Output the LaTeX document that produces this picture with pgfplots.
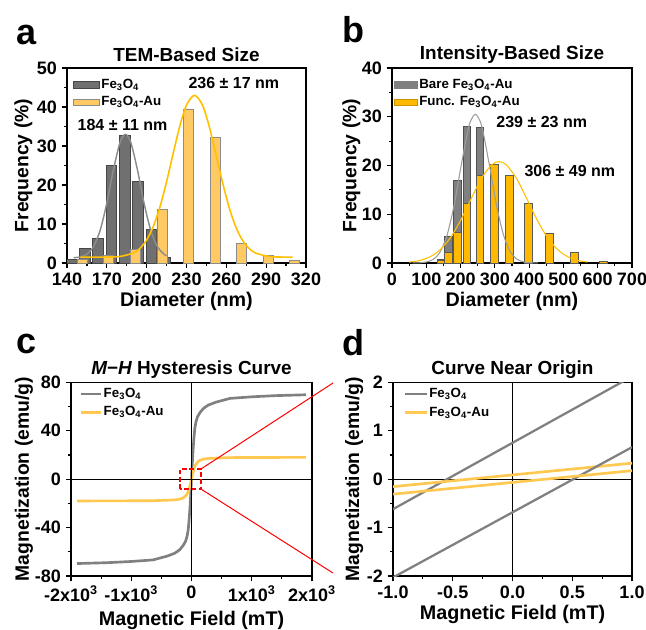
\documentclass[border=0pt]{standalone}
\usepackage{fontspec}
\setmainfont{Liberation Sans}
\usepackage{pgfplots}
\pgfplotsset{compat=1.18}

\definecolor{aGray}{RGB}{112,112,112}
\definecolor{aGrayEdge}{RGB}{70,70,70}
\definecolor{aYel}{RGB}{255,202,100}
\definecolor{aYelEdge}{RGB}{140,140,140}
\definecolor{fitGray}{RGB}{140,140,140}
\definecolor{fitYel}{RGB}{255,192,0}
\definecolor{bGray}{RGB}{128,128,128}
\definecolor{bGrayEdge}{RGB}{80,80,80}
\definecolor{bYel}{RGB}{255,185,0}
\definecolor{bYelEdge}{RGB}{90,90,90}
\definecolor{mGray}{RGB}{128,128,128}
\definecolor{mYel}{RGB}{255,200,80}

\tikzset{note/.style={font=\bfseries\fontsize{12}{13}\selectfont, anchor=base west}}
\pgfplotsset{
  panel/.style={
    scale only axis, anchor=south west, enlargelimits=false,
    axis line style={line width=0.9pt},
    tick align=outside, tick pos=left,
    major tick length=4pt, minor tick length=2.3pt,
    every tick/.style={black, line width=0.9pt},
    tick label style={font=\bfseries\fontsize{13.5}{14}\selectfont},
    /pgf/number format/assume math mode=true,
    every axis x label/.style={at={(axis description cs:0.5,-0.195)}, anchor=center,
      font=\bfseries\fontsize{14.8}{16}\selectfont},
    every axis y label/.style={at={(axis description cs:-0.18,0.5)}, rotate=90, anchor=center,
      font=\bfseries\fontsize{14.5}{16}\selectfont},
    every axis title/.style={at={(axis description cs:0.5,1)}, anchor=base,
      font=\bfseries\fontsize{14.2}{15}\selectfont},
    legend style={draw=none, fill=none, anchor=north west, inner sep=0pt,
      font=\bfseries\fontsize{10}{11}\selectfont, cells={anchor=west},
      nodes={inner sep=1pt, text height=7.5pt, text depth=2.5pt}, row sep=1pt},
  },
}

\begin{document}
\begin{tikzpicture}

% ---------- a ----------
\begin{axis}[panel, at={(50.25pt,-197.25pt)}, width=179.25pt, height=146.25pt,
  xmin=140, xmax=320, ymin=0, ymax=50,
  xtick={140,170,...,320}, ytick={0,10,...,50}, minor x tick num=1, minor y tick num=1,
  title={TEM-Based Size}, title style={yshift=4.7pt},
  xlabel={Diameter (nm)}, ylabel={Frequency (\%)},
  every axis y label/.append style={at={(axis description cs:-0.182,0.5)}},
  legend style={at={(axis description cs:0.025,0.955)}}]
\addplot[ybar, bar width=8, bar shift=0pt, fill=aGray, draw=aGrayEdge, line width=0.6pt,
  legend image code/.code={\draw[fill=aGray, draw=aGrayEdge, line width=0.6pt] (0pt,-2.5pt) rectangle (19.5pt,2.5pt);}]
  coordinates {(143.5,0.8)(153.5,3.8)(163.5,6.2)(173.5,25.0)(183.5,32.8)(193.5,21.0)(203.5,8.5)(213.5,1.5)};
\addlegendentry{Fe\textsubscript{3}O\textsubscript{4}}
\addplot[ybar, bar width=7.5, bar shift=0pt, fill=aYel, draw=aYelEdge, line width=0.6pt,
  legend image code/.code={\draw[fill=aYel, draw=aYelEdge, line width=0.6pt] (0pt,-2.5pt) rectangle (19.5pt,2.5pt);}]
  coordinates {(151.5,0.8)(171.5,2.0)(191.5,3.5)(211.5,13.7)(231.5,39.5)(251.5,32.3)(271.5,5.0)(291.5,2.0)(311.5,0.7)};
\addlegendentry{Fe\textsubscript{3}O\textsubscript{4}-Au}
\addplot[smooth, fitGray, line width=1.1pt, forget plot]
  coordinates {(145,1.36)(150,1.57)(155,2.28)(160,4.24)(165,8.43)(170,15.40)(175,23.98)(180,30.97)(184,33.0)
               (188,30.97)(193,23.98)(198,15.40)(203,8.43)(208,4.24)(213,2.28)(215,1.90)};
\addplot[smooth, fitYel, line width=1.2pt, forget plot]
  coordinates {(150,1.50)(160,1.50)(170,1.52)(180,1.68)(190,2.57)(195,3.77)(200,5.91)(205,9.37)(210,14.38)
               (215,20.85)(220,28.15)(225,35.16)(230,40.49)(236,43.0)(242,40.49)(247,35.16)(252,28.15)(257,20.85)
               (262,14.38)(267,9.37)(272,5.91)(277,3.77)(282,2.57)(292,1.68)(302,1.52)(310,1.50)};
\node[note] at (axis cs:144.5,34.1) {184 ± 11 nm};
\node[note] at (axis cs:228,44.7) {236 ± 17 nm};
\end{axis}

% ---------- b ----------
\begin{axis}[panel, at={(294pt,-197.25pt)}, width=180pt, height=146.25pt,
  xmin=0, xmax=700, ymin=0, ymax=40,
  xtick={0,100,...,700}, ytick={0,10,...,40}, minor x tick num=1, minor y tick num=1,
  title={Intensity-Based Size}, title style={yshift=6.5pt},
  xlabel={Diameter (nm)}, ylabel={Frequency (\%)},
  every axis y label/.append style={at={(axis description cs:-0.169,0.5)}},
  legend style={at={(axis description cs:0.008,0.955)}}]
\addplot[ybar, bar width=22, bar shift=0pt, fill=bGray, draw=bGrayEdge, line width=0.6pt,
  legend image code/.code={\draw[fill=bGray, draw=bGray, line width=0.6pt] (0pt,-2.6pt) rectangle (17.25pt,2.6pt);}]
  coordinates {(143,0.8)(165,5.5)(190,17.0)(219,28.0)(256,27.8)};
\addlegendentry{Bare Fe\textsubscript{3}O\textsubscript{4}-Au}
\addplot[ybar, bar width=22, bar shift=0pt, fill=bYel, draw=bYelEdge, line width=0.6pt,
  legend image code/.code={\draw[fill=bYel, draw=bYel!80!black, line width=0.6pt] (0pt,-2.6pt) rectangle (17.25pt,2.6pt);}]
  coordinates {(143,0.5)(165,2.2)(190,6.2)(219,12.2)(256,18.0)(298,20.3)(343,18.0)(398,12.2)(459,6.0)(532,2.2)(616,0.3)};
\addlegendentry{Func. Fe\textsubscript{3}O\textsubscript{4}-Au}
\addplot[smooth, fitGray!85, line width=0.8pt, forget plot]
  coordinates {(60,0.01)(80,0.04)(100,0.20)(120,0.73)(140,2.22)(160,5.57)(180,11.45)(200,19.32)(220,26.77)
               (230,29.25)(243,30.5)(256,29.25)(266,26.77)(286,19.32)(306,11.45)(326,5.57)(346,2.22)(366,0.73)
               (386,0.20)(406,0.04)(426,0.01)};
\addplot[smooth, fitYel, line width=0.8pt, forget plot]
  coordinates {(50,0.18)(80,0.50)(110,1.24)(140,2.69)(170,5.15)(200,8.73)(230,13.06)(260,17.25)(290,20.11)
               (312,20.8)(334,20.11)(364,17.25)(394,13.06)(424,8.73)(454,5.15)(484,2.69)(514,1.24)(544,0.50)(570,0.2)};
\node[note] at (axis cs:290.8,27.75) {239 ± 23 nm};
\node[note] at (axis cs:373,17.7) {306 ± 49 nm};
\end{axis}

% ---------- c ----------
\begin{axis}[panel, at={(53.25pt,-432pt)}, width=180.75pt, height=145.3pt,
  xmin=-2000, xmax=2000, ymin=-80, ymax=80, scaled x ticks=false,
  xtick={-2000,-1000,0,1000,2000},
  xticklabels={-2x10\textsuperscript{3},-1x10\textsuperscript{3},0,1x10\textsuperscript{3},2x10\textsuperscript{3}},
  ytick={-80,-40,0,40,80}, minor x tick num=1, minor y tick num=1,
  title={\itshape M\upshape−\itshape H\upshape\ Hysteresis Curve}, title style={yshift=6.2pt},
  xlabel={Magnetic Field (mT)}, ylabel={Magnetization (emu/g)},
  every axis x label/.append style={at={(axis description cs:0.5,-0.228)}},
  every axis y label/.append style={at={(axis description cs:-0.195,0.5)}},
  legend style={at={(axis description cs:0.035,0.982)}, row sep=1.7pt}]
\addplot[mGray, line width=2pt, legend image code/.code={\draw[mGray, line width=2pt] (0pt,0pt) -- (15pt,0pt);}]
  coordinates {(-1900,-69.7)(-1400,-69)(-1000,-68)(-639,-66.7)(-400,-63.5)(-279,-61.2)(-200,-58.5)(-141,-55)
               (-100,-51.5)(-75,-47.5)(-55,-42)(-42,-35)(-30,-27)(-20,-19)(-10,-10)(0,0)(10,10)(20,19)(30,27)
               (42,35)(55,42)(75,47.5)(100,51.5)(141,55)(200,58.5)(279,61.2)(400,63.5)(639,66.7)(1000,68)(1400,69)(1900,69.7)};
\addlegendentry{Fe\textsubscript{3}O\textsubscript{4}}
\addplot[mYel, line width=2pt, legend image code/.code={\draw[mYel, line width=2pt] (0pt,0pt) -- (15pt,0pt);}]
  coordinates {(-1900,-18)(-1000,-17.9)(-640,-17.8)(-300,-17.2)(-200,-16.6)(-140,-15.6)(-110,-14.5)(-86,-13.1)
               (-60,-11)(-45,-9)(-30,-6.2)(-15,-3.1)(0,0)(15,3.1)(30,6.2)(45,9)(60,11)(86,13.1)(110,14.5)
               (140,15.6)(200,16.6)(300,17.2)(640,17.8)(1000,17.9)(1900,18)};
\addlegendentry{Fe\textsubscript{3}O\textsubscript{4}-Au}
\draw[black, line width=0.8pt] (axis cs:0,-80) -- (axis cs:0,80);
\draw[black, line width=0.8pt] (axis cs:-2000,0) -- (axis cs:2000,0);
\draw[red, line width=1.5pt, dash pattern=on 3.5pt off 2pt] (axis cs:-190,-8.2) rectangle (axis cs:158,8.4);
\coordinate (boxTR) at (axis cs:158,8.4);
\coordinate (boxBR) at (axis cs:158,-8.2);
\end{axis}
\draw[red, line width=0.75pt] (boxTR) -- (249.75pt,-287.25pt);
\draw[red, line width=0.75pt] (boxBR) -- (249.75pt,-429.75pt);

% ---------- d ----------
\begin{axis}[panel, at={(294.75pt,-432pt)}, width=179.25pt, height=145.3pt,
  xmin=-1, xmax=1, ymin=-2, ymax=2,
  xtick={-1,-0.5,0,0.5,1}, ytick={-2,-1,0,1,2}, minor x tick num=1, minor y tick num=1,
  xticklabel style={/pgf/number format/.cd, fixed, fixed zerofill, precision=1},
  title={Curve Near Origin}, title style={yshift=6.2pt},
  xlabel={Magnetic Field (mT)}, ylabel={Magnetization (emu/g)},
  every axis x label/.append style={at={(axis description cs:0.5,-0.196)}},
  every axis y label/.append style={at={(axis description cs:-0.163,0.5)}},
  legend style={at={(axis description cs:0.042,0.983)}, row sep=2.2pt}]
\draw[black, line width=0.8pt] (axis cs:0,-2) -- (axis cs:0,2);
\draw[black, line width=0.8pt] (axis cs:-1,0) -- (axis cs:1,0);
\addplot[mGray, line width=1.7pt, legend image code/.code={\draw[mGray, line width=1.7pt] (0pt,0pt) -- (16.5pt,0pt);}]
  coordinates {(-1,-0.62)(1,2.12)};
\addlegendentry{Fe\textsubscript{3}O\textsubscript{4}}
\addplot[mYel, line width=2pt, legend image code/.code={\draw[mYel, line width=2pt] (0pt,0pt) -- (16.5pt,0pt);}]
  coordinates {(-1,-0.155)(1,0.33)};
\addlegendentry{Fe\textsubscript{3}O\textsubscript{4}-Au}
\addplot[mGray, line width=1.7pt, forget plot] coordinates {(-1,-2.03)(1,0.66)};
\addplot[mYel, line width=2pt, forget plot] coordinates {(-1,-0.31)(1,0.175)};
\end{axis}

% panel letters
\node[anchor=base west, font=\bfseries\fontsize{27}{27}\selectfont] at (8.8pt,-33.2pt) {a};
\node[anchor=base west, font=\bfseries\fontsize{27}{27}\selectfont] at (253.5pt,-32pt) {b};
\node[anchor=base west, font=\bfseries\fontsize{27}{27}\selectfont] at (9.2pt,-264.75pt) {c};
\node[anchor=base west, font=\bfseries\fontsize{27}{27}\selectfont] at (253.7pt,-266.25pt) {d};

\pgfresetboundingbox
\path (0pt,0pt) rectangle (484.5pt,-471.75pt);
\end{tikzpicture}
\end{document}
